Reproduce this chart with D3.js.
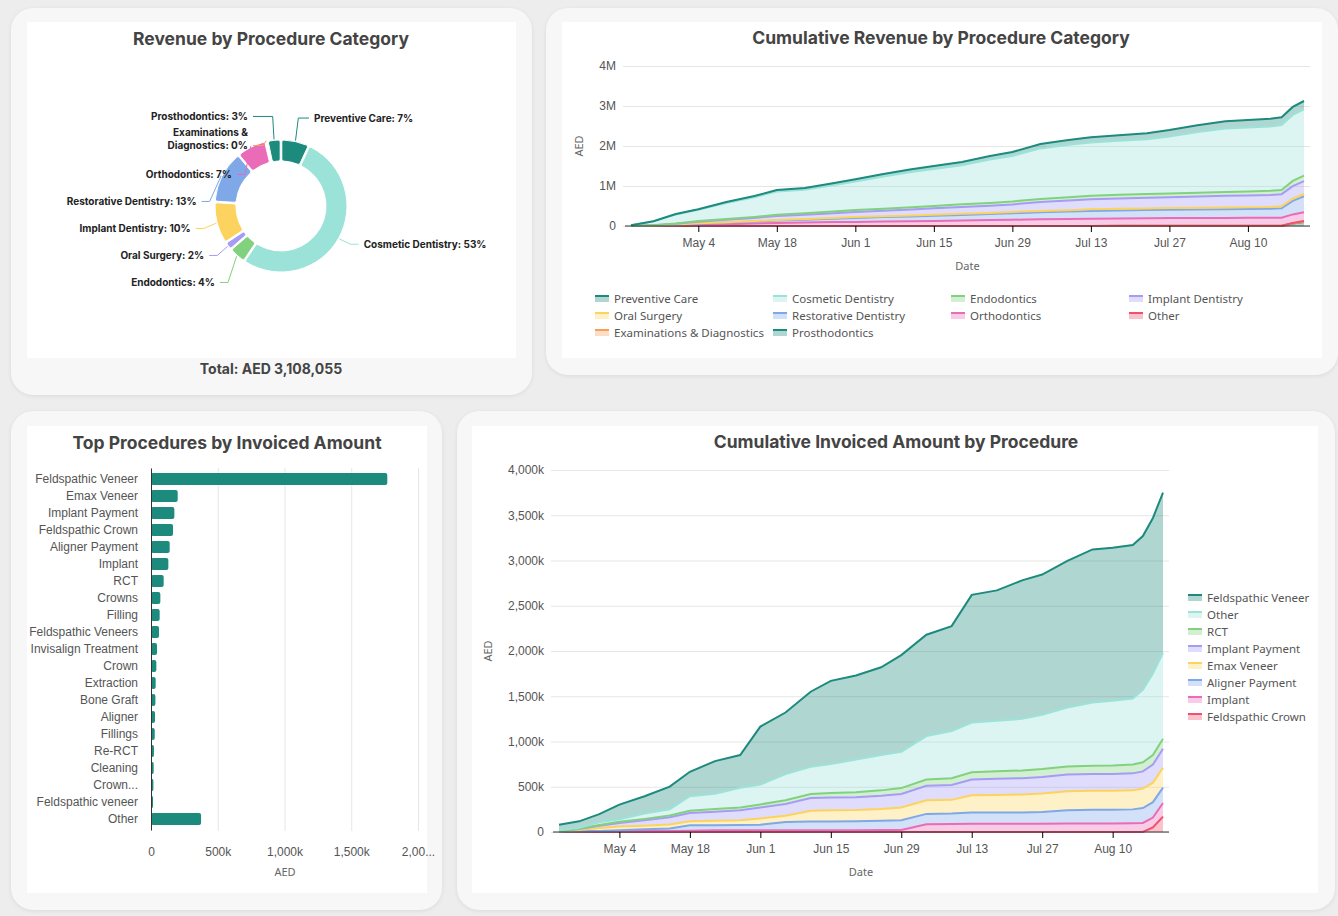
<!DOCTYPE html>
<html><head><meta charset="utf-8">
<script src="https://cdn.jsdelivr.net/npm/d3@7"></script>
<style>
body{margin:0;background:#ededed;font-family:"Noto Sans",Inter,sans-serif;}
.card{position:absolute;background:#f7f7f7;border-radius:22px;box-shadow:0 1px 4px rgba(0,0,0,.08);}
.inner{position:absolute;background:#fff;}
svg{position:absolute;left:0;top:0;}
.title{font-family:Inter,"Noto Sans",sans-serif;font-weight:700;font-size:17.5px;fill:#444;text-anchor:middle;}
.tick text{fill:#555;font-size:12px;}
.axlab{fill:#666;font-size:11px;}
</style></head>
<body>
<div class="card" style="left:11px;top:8px;width:521px;height:387px"></div>
<div class="inner" style="left:27px;top:22px;width:489px;height:336px"></div>
<div class="card" style="left:546px;top:8px;width:792px;height:367px"></div>
<div class="inner" style="left:562px;top:22px;width:760px;height:336px"></div>
<div class="card" style="left:11px;top:411px;width:431px;height:499px"></div>
<div class="inner" style="left:27px;top:426px;width:400px;height:467px"></div>
<div class="card" style="left:457px;top:411px;width:878px;height:499px"></div>
<div class="inner" style="left:472px;top:426px;width:846px;height:467px"></div>
<svg id="main" width="1338" height="916"></svg>
<script>
// ---- donut data
const donutCats = ["Preventive Care","Cosmetic Dentistry","Endodontics","Oral Surgery","Implant Dentistry","Restorative Dentistry","Orthodontics","Examinations & Diagnostics","Prosthodontics"];
const donutVals = [210000,1650000,125000,55000,315000,400000,220000,5000,95000];
const donutColors = ["#1d8a7e","#9be3d9","#82d17f","#a59cf5","#fcd35e","#7fa8e8","#ea6bb8","#f5a15b","#1d8a7e"];
const revenueTotal = 3108055;

// ---- shared dates for cumulative charts
const dates = ["2024-04-22","2024-04-26","2024-04-30","2024-05-04","2024-05-09","2024-05-14","2024-05-18","2024-05-23","2024-05-28","2024-06-01","2024-06-06","2024-06-11","2024-06-15","2024-06-20","2024-06-25","2024-06-29","2024-07-04","2024-07-09","2024-07-13","2024-07-18","2024-07-23","2024-07-27","2024-08-01","2024-08-06","2024-08-10","2024-08-14","2024-08-16","2024-08-18","2024-08-20"];

// cumulative revenue by category (thousands AED), stack bottom -> top
const revProstho = [0,0,0,0,0,0,0,0,0,0,0,0,0,0,0,0,0,0,0,0,0,0,0,0,0,0,0,60,100];
const revExams = [0,0,0,1,1,1,1,1,2,2,2,2,2,3,3,3,3,3,3,4,4,4,4,4,4,4,4,5,5];
const revOther = [0,0,0,0,0,0,0,0,0,0,0,0,0,0,0,0,0,0,0,0,0,0,0,0,0,0,0,10,20];
const revOrtho = [0,5,15,30,45,60,75,85,95,100,110,118,125,135,145,155,165,172,180,185,190,193,196,198,200,202,205,215,220];
const revRestor = [0,5,15,30,40,50,60,70,85,100,110,120,130,140,150,160,175,185,195,200,205,210,215,218,220,225,235,340,400];
const revOral = [0,2,5,8,10,12,14,16,18,20,22,24,26,28,30,32,34,36,38,40,41,42,43,44,45,46,47,52,55];
const revImplant = [0,5,20,40,60,80,100,110,120,130,140,150,160,170,180,190,220,240,250,260,265,270,280,290,295,300,305,315,320];
const revEndo = [0,2,8,15,20,25,30,35,40,45,50,55,60,65,70,75,80,85,88,90,92,94,96,98,100,102,105,130,140];
const revCosmetic = [20,96,227,281,399,492,580,588,660,718,806,881,922,979,1082,1135,1263,1309,1336,1351,1373,1427,1516,1588,1601,1611,1624,1650,1655];
const revPreventive = [0,5,10,15,25,30,40,45,50,55,60,70,75,80,90,100,110,120,130,140,150,160,170,180,185,190,195,200,210];

// cumulative invoiced amount by procedure (thousands AED), stack bottom -> top
const invFeldCrown = [0,0,0,0,0,0,0,0,0,0,0,0,0,0,0,0,0,0,0,0,0,0,0,0,0,0,0,50,170];
const invImplant = [5,8,10,10,12,12,15,18,20,20,20,20,20,20,22,22,85,88,90,90,90,92,95,95,95,98,100,110,150];
const invAligner = [0,0,0,10,18,28,60,57,58,60,90,95,95,98,103,108,115,117,125,125,125,128,145,150,150,152,165,170,170];
const invEmax = [0,15,35,40,40,42,45,50,52,70,70,120,125,125,130,140,150,150,190,195,200,205,210,210,210,210,215,215,220];
const invImplPay = [0,10,25,40,60,80,90,100,110,120,130,140,140,142,145,150,160,165,175,178,180,182,185,185,185,188,190,200,210];
const invRCT = [0,5,8,12,15,20,25,28,30,35,40,45,50,55,60,65,70,75,80,82,85,88,90,92,95,98,100,105,110];
const invOther = [15,10,30,30,60,70,160,170,220,220,290,300,320,360,390,400,480,520,550,560,570,600,650,700,715,730,800,900,950];
const invFeldVeneer = [60,70,90,160,190,250,270,360,360,640,680,830,920,930,970,1070,1120,1160,1410,1440,1530,1550,1620,1690,1690,1695,1700,1720,1770];

// top procedures (AED)
const procNames = ["Feldspathic Veneer","Emax Veneer","Implant Payment","Feldspathic Crown","Aligner Payment","Implant","RCT","Crowns","Filling","Feldspathic Veneers","Invisalign Treatment","Crown","Extraction","Bone Graft","Aligner","Fillings","Re-RCT","Cleaning","Crown...","Feldspathic veneer","Other"];
const procVals = [1770000,200000,175000,165000,140000,130000,95000,70000,65000,60000,45000,40000,35000,33000,30000,28000,22000,20000,18000,15000,375000];

const svg = d3.select("#main");
const parse = d3.timeParse("%Y-%m-%d");
const D = dates.map(parse);

// ================= Donut
function drawDonut(){
  svg.append("text").attr("class","title").attr("x",271).attr("y",45).text("Revenue by Procedure Category");
  const cx = 281, cy = 206, r = 66, ri = 45;
  const g = svg.append("g").attr("transform",`translate(${cx},${cy})`);
  const data = donutCats.map((c,i)=>({c, v:donutVals[i], col:donutColors[i]}));
  const arcs = d3.pie().value(d=>d.v).sort(null).padAngle(0.02)(data);
  const arc = d3.arc().innerRadius(ri).outerRadius(r).cornerRadius(2);
  g.selectAll("path.s").data(arcs).enter().append("path")
    .attr("d",arc).attr("fill",d=>d.data.col).attr("stroke","#fff").attr("stroke-width",1);
  // label positions, pushed apart vertically
  const labs = arcs.map(a=>{
    const m=(a.startAngle+a.endAngle)/2;
    return {a, m, right: m<Math.PI, y: -Math.cos(m)*(r+20)};
  });
  [true,false].forEach(side=>{
    const L = labs.filter(d=>d.right===side).sort((p,q)=>p.y-q.y);
    for(let k=1;k<L.length;k++){
      const gap = L[k].a.data.c==="Examinations & Diagnostics" || L[k-1].a.data.c==="Examinations & Diagnostics" ? 29 : 27;
      if(L[k].y-L[k-1].y<gap) L[k].y=L[k-1].y+gap;
    }
  });
  labs.forEach(d=>{
    const p0 = [Math.sin(d.m)*(r+1), -Math.cos(d.m)*(r+1)];
    const ex = Math.sin(d.m)*(r+14);
    const x1 = d.right ? Math.max(ex, 20)+8 : Math.min(ex,-20)-8;
    const pts = [p0,[ex,d.y-4],[x1,d.y-4]];
    g.append("polyline").attr("points",pts.map(p=>p.join(",")).join(" "))
      .attr("fill","none").attr("stroke",d.a.data.col).attr("stroke-width",1);
    const tx = x1+(d.right?5:-5);
    const t = g.append("text").attr("x",tx).attr("y",d.y)
      .attr("text-anchor",d.right?"start":"end").attr("font-size",10).attr("font-weight",700)
      .attr("font-family","Inter,sans-serif").attr("fill","#222");
    const pct = Math.round(d.a.data.v/revenueTotal*100)+"%";
    if(d.a.data.c==="Examinations & Diagnostics"){
      t.append("tspan").attr("x",tx).attr("dy",-13).text("Examinations &");
      t.append("tspan").attr("x",tx).attr("dy",13).text("Diagnostics: "+pct);
    } else t.text(d.a.data.c+": "+pct);
  });
  svg.append("text").attr("x",271).attr("y",374).attr("text-anchor","middle")
    .attr("font-family","Inter,sans-serif").attr("font-weight",700).attr("font-size",14).attr("fill","#444")
    .text("Total: AED "+d3.format(",")(revenueTotal));
}

// ================= Stacked cumulative area
function drawStack(o){
  const {keys, series, colors, x0,x1,y0,y1, yfmt, ticks} = o;
  const rows = D.map((d,i)=>{const r={date:d}; keys.forEach((k,j)=>r[k]=series[j][i]*1000); return r;});
  const stack = d3.stack().keys(keys)(rows);
  const x = d3.scaleTime().domain([D[0],D[D.length-1]]).range([x0,x1]);
  const y = d3.scaleLinear().domain([0,4000000]).range([y0,y1]);
  const g = svg.append("g");
  g.append("g").attr("transform",`translate(${x0-8},0)`)
    .call(d3.axisLeft(y).tickValues(ticks).tickFormat(yfmt).tickSize(-(x1-x0+14)))
    .call(a=>{a.select(".domain").remove(); a.selectAll(".tick line").attr("stroke","#e6e6e6"); a.selectAll(".tick text").attr("dx",-4);});
  const area = d3.area().x(d=>x(d.data.date)).y0(d=>y(d[0])).y1(d=>y(d[1]));
  const line = d3.line().x(d=>x(d.data.date)).y(d=>y(d[1]));
  stack.forEach((s,i)=>{
    g.append("path").attr("d",area(s)).attr("fill",colors[i]).attr("fill-opacity",0.35);
  });
  stack.forEach((s,i)=>{
    g.append("path").attr("d",line(s)).attr("fill","none").attr("stroke",colors[i]).attr("stroke-width",2);
  });
  const tv = d3.timeDay.range(parse("2024-05-04"),parse("2024-08-20"),14);
  g.append("g").attr("transform",`translate(0,${y0})`)
    .call(d3.axisBottom(x).tickValues(tv).tickFormat(d3.timeFormat("%b %-d")).tickSize(6).tickPadding(6))
    .call(a=>{a.select(".domain").attr("d",`M${x0-6},0H${x1+6}`).attr("stroke","#333");});
  g.append("text").attr("class","axlab").attr("x",(x0+x1)/2).attr("y",y0+44).attr("text-anchor","middle").text("Date");
  g.append("text").attr("class","axlab").attr("transform",`translate(${o.ylabX},${(y0+y1)/2}) rotate(-90)`).attr("text-anchor","middle").text("AED");
}

function legendItem(g,x,y,col,label){
  g.append("rect").attr("x",x).attr("y",y-3).attr("width",14).attr("height",6).attr("fill",col).attr("fill-opacity",0.35);
  g.append("line").attr("x1",x).attr("x2",x+14).attr("y1",y-3).attr("y2",y-3).attr("stroke",col).attr("stroke-width",2);
  g.append("text").attr("x",x+19).attr("y",y+4).attr("font-size",11.5).attr("fill","#555").text(label);
}

function drawTopRight(){
  svg.append("text").attr("class","title").attr("x",941).attr("y",44).text("Cumulative Revenue by Procedure Category");
  const keys=["Prosthodontics","Examinations & Diagnostics","Other","Orthodontics","Restorative Dentistry","Oral Surgery","Implant Dentistry","Endodontics","Cosmetic Dentistry","Preventive Care"];
  const cols=["#1d8a7e","#f5a15b","#f0506e","#ea6bb8","#7fa8e8","#fcd35e","#a59cf5","#82d17f","#9be3d9","#1d8a7e"];
  drawStack({keys,colors:cols,series:[revProstho,revExams,revOther,revOrtho,revRestor,revOral,revImplant,revEndo,revCosmetic,revPreventive],
    x0:631,x1:1304,y0:226,y1:66,ticks:[0,1e6,2e6,3e6,4e6],yfmt:d=>d===0?"0":(d/1e6)+"M",ylabX:583});
  const leg=["Preventive Care","Cosmetic Dentistry","Endodontics","Implant Dentistry","Oral Surgery","Restorative Dentistry","Orthodontics","Other","Examinations & Diagnostics","Prosthodontics"];
  const lc={"Preventive Care":"#1d8a7e","Cosmetic Dentistry":"#9be3d9","Endodontics":"#82d17f","Implant Dentistry":"#a59cf5","Oral Surgery":"#fcd35e","Restorative Dentistry":"#7fa8e8","Orthodontics":"#ea6bb8","Other":"#f0506e","Examinations & Diagnostics":"#f5a15b","Prosthodontics":"#1d8a7e"};
  const g=svg.append("g");
  leg.forEach((k,i)=>legendItem(g,595+(i%4)*178,299+Math.floor(i/4)*17,lc[k],k));
}

function drawBottomRight(){
  svg.append("text").attr("class","title").attr("x",896).attr("y",448).text("Cumulative Invoiced Amount by Procedure");
  const keys=["Feldspathic Crown","Implant","Aligner Payment","Emax Veneer","Implant Payment","RCT","Other","Feldspathic Veneer"];
  const cols=["#f0506e","#ea6bb8","#7fa8e8","#fcd35e","#a59cf5","#82d17f","#9be3d9","#1d8a7e"];
  drawStack({keys,colors:cols,series:[invFeldCrown,invImplant,invAligner,invEmax,invImplPay,invRCT,invOther,invFeldVeneer],
    x0:559,x1:1163,y0:832,y1:470,ticks:d3.range(0,4000001,500000),yfmt:d=>d===0?"0":d3.format(",")(d/1000)+"k",ylabX:492});
  const g=svg.append("g");
  keys.slice().reverse().forEach((k,i)=>legendItem(g,1188,598+i*17,cols[keys.length-1-i],k));
}

function drawBars(){
  svg.append("text").attr("class","title").attr("x",227).attr("y",449).text("Top Procedures by Invoiced Amount");
  const x=d3.scaleLinear().domain([0,2000000]).range([151,418]);
  const y=d3.scaleBand().domain(procNames).range([468,830]).padding(0.3);
  const g=svg.append("g");
  g.append("g").attr("transform","translate(0,468)")
    .call(d3.axisBottom(x).ticks(4).tickSize(363).tickFormat(d=>""))
    .call(a=>{a.select(".domain").remove();a.selectAll(".tick line").attr("stroke","#e6e6e6");});
  g.selectAll("rect.b").data(procVals).enter().append("rect")
    .attr("x",x(0)).attr("y",(d,i)=>y(procNames[i])).attr("height",y.bandwidth())
    .attr("width",d=>x(d)-x(0)).attr("fill","#1d8a7e").attr("rx",2);
  g.append("g").attr("transform","translate(151,0)")
    .call(d3.axisLeft(y).tickSize(0).tickPadding(13))
    .call(a=>a.select(".domain").attr("stroke","#333"));
  g.append("g").attr("transform","translate(0,841)")
    .call(d3.axisBottom(x).ticks(4).tickSize(0).tickPadding(6).tickFormat(d=>d===0?"0":d===2000000?"2,00...":d3.format(",")(d/1000)+"k"))
    .call(a=>a.select(".domain").remove());
  g.append("text").attr("class","axlab").attr("x",285).attr("y",876).attr("text-anchor","middle").text("AED");
}

drawDonut();
drawTopRight();
drawBottomRight();
drawBars();
</script>
</body></html>
